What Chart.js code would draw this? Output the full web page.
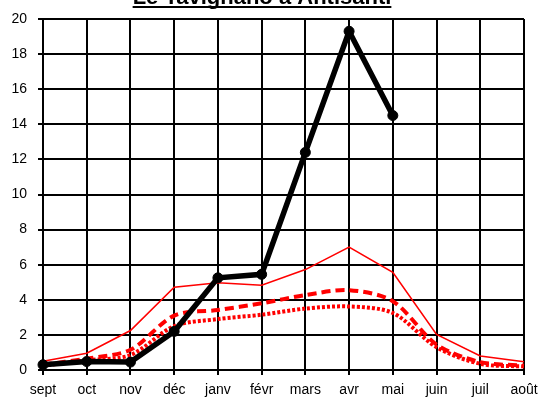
<!DOCTYPE html>
<html>
<head>
<meta charset="utf-8">
<script src="https://cdn.jsdelivr.net/npm/chart.js@4"></script>
<style>
html,body{margin:0;padding:0;background:#fff;}
#wrap{width:541px;height:401px;position:relative;}
</style>
</head>
<body>
<div id="wrap"><canvas id="c" width="541" height="401"></canvas></div>
<script>
const titleText = "Le Tavignano à Antisanti";
const months = ["sept","oct","nov","déc","janv","févr","mars","avr","mai","juin","juil","août"];
const yTicks = [0,2,4,6,8,10,12,14,16,18,20];
const obs = [0.3, 0.48, 0.45, 2.2, 5.25, 5.45, 12.4, 19.3, 14.5, null, null, null];
const redHigh = [0.5, 0.95, 2.25, 4.72, 4.97, 4.83, 5.72, 7.0, 5.57, 2.03, 0.8, 0.47];
const redMid = [0.3, 0.65, 1.15, 3.1, 3.42, 3.8, 4.27, 4.55, 3.92, 1.45, 0.45, 0.25];
const redLow = [0.25, 0.55, 0.85, 2.5, 2.9, 3.15, 3.5, 3.62, 3.25, 1.3, 0.35, 0.2];

const titlePlugin = {
  id: 'cutTitle',
  afterDraw(chart) {
    const ctx = chart.ctx;
    ctx.save();
    ctx.font = 'bold 22px "Liberation Sans", Arial, sans-serif';
    ctx.fillStyle = '#000';
    ctx.textAlign = 'center';
    ctx.textBaseline = 'alphabetic';
    const cx = 262, by = 4;
    ctx.fillText(titleText, cx, by);
    const w = ctx.measureText(titleText).width;
    ctx.fillRect(cx - w/2, by + 2, w, 2);
    ctx.restore();
  }
};

new Chart(document.getElementById('c'), {
  type: 'line',
  data: {
    labels: months,
    datasets: [
      {data: obs, borderColor:'#000', backgroundColor:'#000', borderWidth:5.5,
       pointRadius:5, pointBorderColor:'#000', pointBackgroundColor:'#000', pointBorderWidth:1,
       tension:0, order:0, spanGaps:false},
      {data: redHigh, borderColor:'#ff0000', borderWidth:1.6, pointRadius:0, tension:0, order:3},
      {data: redMid, borderColor:'#ff0000', borderWidth:4, borderDash:[9,5], pointRadius:0, tension:0.3, order:1},
      {data: redLow, borderColor:'#ff0000', borderWidth:4, borderDash:[3,2], pointRadius:0, tension:0.3, order:2}
    ]
  },
  options: {
    responsive:false,
    animation:false,
    events:[],
    layout:{padding:{top:19,right:17,left:0,bottom:0}},
    plugins:{legend:{display:false}, tooltip:{enabled:false}, title:{display:false}},
    scales:{
      x:{
        offset:false,
        grid:{color:'#000', lineWidth:2, tickLength:5, drawTicks:true},
        border:{color:'#000', width:2},
        ticks:{color:'#000', font:{family:'"Liberation Sans", Arial, sans-serif', size:14}, padding:7, maxRotation:0, autoSkip:false},
        afterFit(s){ s.height = 31; s.paddingLeft = 0; s.paddingRight = 0; }
      },
      y:{
        min:0, max:20,
        afterBuildTicks(s){ s.ticks = yTicks.map(v=>({value:v})); },
        grid:{color:'#000', lineWidth:2, tickLength:5},
        border:{color:'#000', width:2},
        ticks:{color:'#000', font:{family:'"Liberation Sans", Arial, sans-serif', size:14}, padding:11},
        afterFit(s){ s.width = 43; s.paddingTop = 0; s.paddingBottom = 0; }
      }
    }
  },
  plugins:[titlePlugin]
});
</script>
</body>
</html>
